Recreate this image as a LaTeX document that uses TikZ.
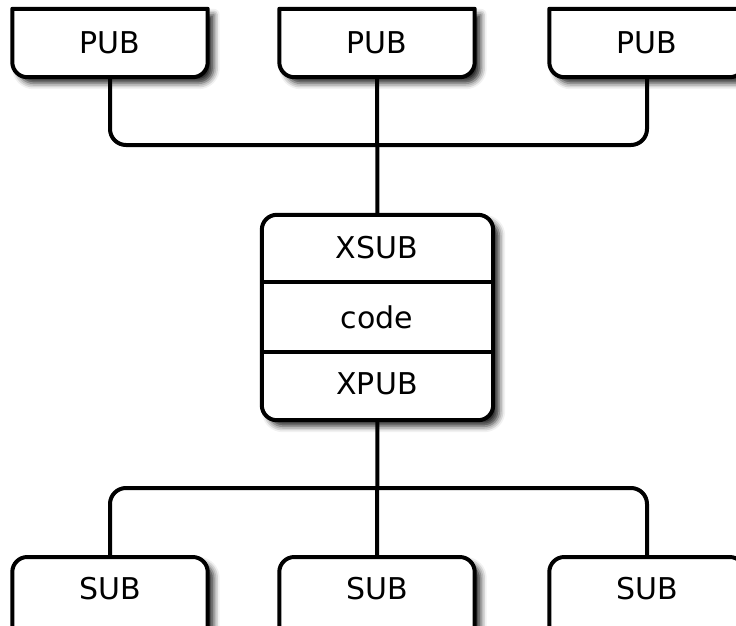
\documentclass[tikz,border=0pt]{standalone}
\usepackage{fontspec}
\setmainfont{DejaVu Sans}
\usetikzlibrary{shadows.blur}

\tikzset{
  sockbox/.style={minimum width=195pt, inner sep=0pt, font=\fontsize{30}{36}\selectfont},
  outline/.style={line width=4pt, fill=white, line join=round,
    blur shadow={shadow xshift=6pt, shadow yshift=-6pt, shadow blur radius=6pt, shadow opacity=85}},
  wire/.style={line width=4pt, rounded corners=16pt},
}

\begin{document}
\begin{tikzpicture}[x=1pt, y=-1pt]
\useasboundingbox (0,0) rectangle (736,626);
\clip (0,0) rectangle (736,626);

% publishers
\node[sockbox, minimum height=68pt] (pub1) at (110,43) {};
\node[sockbox, minimum height=68pt] (pub2) at (377,43) {};
\node[sockbox, minimum height=68pt] (pub3) at (647,43) {};

% subscribers
\node[sockbox, anchor=north, minimum height=62pt] (sub1) at (110,557) {};
\node[sockbox, anchor=north, minimum height=62pt] (sub2) at (377,557) {};
\node[sockbox, anchor=north, minimum height=62pt] (sub3) at (647,557) {};

% proxy
\node[minimum width=231pt, minimum height=205pt, inner sep=0pt] (hub) at (377.5,317.5) {};

\coordinate (pubjoin) at (377,145);
\coordinate (subjoin) at (377,488);

\draw[wire] (pub1.south) |- (pubjoin) -| (pub3.south);
\draw[wire] (pub2.south) -- (hub.north);
\draw[wire] (sub1.north) |- (subjoin) -| (sub3.north);
\draw[wire] (hub.south) -- (sub2.north);

\foreach \p in {pub1,pub2,pub3} {
  \draw[outline] (\p.north west) -- (\p.north east) [rounded corners=15pt] -- (\p.south east) -- (\p.south west) [sharp corners] -- cycle;
  \node[sockbox] at (\p) {PUB};
}
\foreach \s in {sub1,sub2,sub3} {
  \draw[outline] ([yshift=-40pt]\s.south west) [rounded corners=15pt] -- (\s.north west) -- (\s.north east) [sharp corners] -- ([yshift=-40pt]\s.south east) -- cycle;
  \node[sockbox] at (\s) {SUB};
}

\draw[outline, rounded corners=15pt] (hub.north west) rectangle (hub.south east);
\draw[line width=4pt] (hub.west |- 0,282) -- (hub.east |- 0,282);
\draw[line width=4pt] (hub.west |- 0,352) -- (hub.east |- 0,352);
\node[sockbox] (xsub) at (377,248) {XSUB};
\node[sockbox] (code) at (377,317) {code};
\node[sockbox] (xpub) at (377,384) {XPUB};

\end{tikzpicture}
\end{document}
